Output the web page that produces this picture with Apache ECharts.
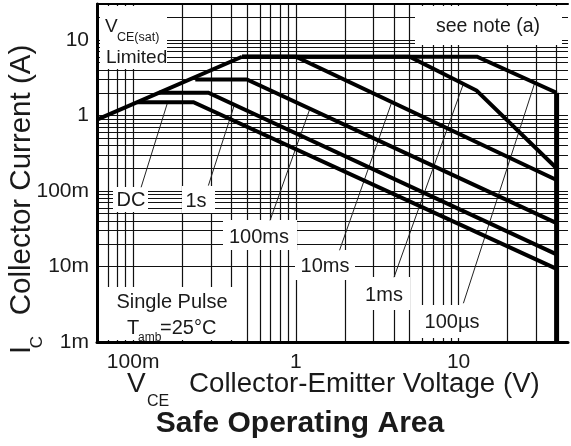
<!DOCTYPE html>
<html><head><meta charset="utf-8">
<script src="https://cdn.jsdelivr.net/npm/echarts@6/dist/echarts.min.js"></script>
<style>html,body{margin:0;padding:0;background:#fff}#c{width:571px;height:446px}</style>
</head><body><div id="c"></div>
<script>
// ---- axes ----
const xRange = [0.06, 47];
const yRange = [0.001, 30];
const xTickLabels = {'0.1': '100m', '1': '1', '10': '10'};
const yTickLabels = {'0.001': '1m', '0.01': '10m', '0.1': '100m', '1': '1', '10': '10'};
const xGridValues = [0.06, 0.07, 0.08, 0.09, 0.1, 0.2, 0.3, 0.4, 0.5, 0.6, 0.7, 0.8, 0.9,
  1, 2, 3, 4, 5, 6, 7, 8, 9, 10, 20, 30, 40];
const yGridValues = [0.001, 0.002, 0.003, 0.004, 0.005, 0.006, 0.007, 0.008, 0.009,
  0.01, 0.02, 0.03, 0.04, 0.05, 0.06, 0.07, 0.08, 0.09,
  0.1, 0.2, 0.3, 0.4, 0.5, 0.6, 0.7, 0.8, 0.9,
  1, 2, 3, 4, 5, 6, 7, 8, 9, 10, 20, 30];

// ---- SOA curves (V, A) ----
const vceSatV = [0.06, 0.467];
const vceSatI = [0.88, 6];
const dcV = [0.106, 0.235, 40];
const dcI = [1.5, 1.5, 0.0093];
const s1V = [0.144, 0.29, 40];
const s1I = [2, 2, 0.0145];
const ms100V = [0.241, 0.5, 40];
const ms100I = [3, 3, 0.0375];
const ms10V = [0.467, 1.0, 40];
const ms10I = [6, 6, 0.14];
const ms1V = [0.467, 5.0, 12.9, 40];
const ms1I = [6, 6, 2.14, 0.2];
const us100V = [0.467, 13, 40];
const us100I = [6, 6, 2.0];
const vceMaxV = [40, 40];
const vceMaxI = [2.0, 0.001];

// ---- callout leader lines (V, A) ----
const dcLeadV = [0.112, 0.163];   const dcLeadI = [0.112, 1.5];
const s1LeadV = [0.29, 0.419];    const s1LeadI = [0.118, 1.38];
const ms100LeadV = [0.694, 1.22]; const ms100LeadI = [0.0408, 1.23];
const ms10LeadV = [1.855, 3.9];   const ms10LeadI = [0.0164, 1.54];
const ms1LeadV = [4.01, 10.7];    const ms1LeadI = [0.0072, 2.63];
const us100LeadV = [10.7, 29.4];  const us100LeadI = [0.00326, 2.73];

const FONT = '"Liberation Sans", Arial, sans-serif';
const pairs = (xs, ys) => xs.map((x, i) => [x, ys[i]]);
const decKey = v => {
  const e = Math.log10(v), r = Math.round(e);
  return Math.abs(e - r) < 1e-6 ? String(Math.pow(10, r)) : null;
};
const curve = (name, xs, ys, w) => ({
  name, type: 'line', data: pairs(xs, ys), symbol: 'none', showSymbol: false,
  silent: true, z: 20, animation: false,
  lineStyle: {color: '#000', width: w, cap: 'butt', join: 'miter'}
});
const leader = (name, xs, ys) => ({
  name, type: 'line', data: pairs(xs, ys), symbol: 'none', showSymbol: false,
  silent: true, z: 19, animation: false,
  lineStyle: {color: '#222', width: 1}
});

const box = (x, y, w, h) => ({type: 'rect', z: 15, silent: true,
  shape: {x, y, width: w, height: h}, style: {fill: '#fff'}});
const txt = (text, x, y, size, opt) => {
  opt = opt || {};
  return {type: 'text', x, y, z: 25, silent: true, rotation: opt.rot || 0,
    style: {text, font: (opt.bold ? 'bold ' : '') + size + 'px ' + FONT, fill: '#1a1a1a',
      align: opt.align || 'center', verticalAlign: 'middle',
      textAlign: opt.align || 'center', textVerticalAlign: 'middle'}};
};

const chart = echarts.init(document.getElementById('c'), null, {renderer: 'canvas'});
const gridMarks = xGridValues.map(v => ({xAxis: v})).concat(yGridValues.map(v => ({yAxis: v})));

const option = {
  animation: false,
  backgroundColor: '#fff',
  grid: {left: 97, right: 0, top: 4, bottom: 104, containLabel: false},
  xAxis: [{
    type: 'log', logBase: 10, min: xRange[0], max: xRange[1], z: 30,
    axisLine: {show: true, onZero: false, lineStyle: {color: '#000', width: 3}},
    axisTick: {show: false}, splitLine: {show: false}, minorTick: {show: false},
    axisLabel: {show: true, margin: 10, fontFamily: FONT, fontSize: 21, color: '#1a1a1a',
      showMinLabel: true, showMaxLabel: true,
      formatter: v => { const k = decKey(v); return k && xTickLabels[k] ? xTickLabels[k] : ''; }}
  }, {
    type: 'log', logBase: 10, min: xRange[0], max: xRange[1], position: 'top', z: 30,
    axisLine: {show: true, onZero: false, lineStyle: {color: '#000', width: 2}},
    axisTick: {show: false}, splitLine: {show: false}, axisLabel: {show: false}
  }],
  yAxis: [{
    type: 'log', logBase: 10, min: yRange[0], max: yRange[1], z: 30,
    axisLine: {show: true, onZero: false, lineStyle: {color: '#000', width: 3}},
    axisTick: {show: false}, splitLine: {show: false}, minorTick: {show: false},
    axisLabel: {show: true, margin: 8, fontFamily: FONT, fontSize: 21, color: '#1a1a1a',
      formatter: v => { const k = decKey(v); return k && yTickLabels[k] ? yTickLabels[k] : ''; }}
  }],
  series: [
    {type: 'line', data: [], z: 1, silent: true, animation: false,
      markLine: {z: 1, silent: true, symbol: ['none', 'none'], animation: false,
        label: {show: false}, emphasis: {disabled: true},
        lineStyle: {color: '#111', width: 1.2, type: 'solid'}, data: gridMarks}},
    curve('VCE(sat)', vceSatV, vceSatI, 4),
    curve('DC', dcV, dcI, 4),
    curve('1s', s1V, s1I, 4),
    curve('100ms', ms100V, ms100I, 4),
    curve('10ms', ms10V, ms10I, 4),
    curve('1ms', ms1V, ms1I, 4),
    curve('100us', us100V, us100I, 4),
    curve('VCEmax', vceMaxV, vceMaxI, 5),
    leader('DC lead', dcLeadV, dcLeadI),
    leader('1s lead', s1LeadV, s1LeadI),
    leader('100ms lead', ms100LeadV, ms100LeadI),
    leader('10ms lead', ms10LeadV, ms10LeadI),
    leader('1ms lead', ms1LeadV, ms1LeadI),
    leader('100us lead', us100LeadV, us100LeadI)
  ],
  graphic: {elements: [
    box(100, 6, 67, 63),
    box(415, 6, 147, 39),
    box(113, 187, 35, 25),
    box(182, 186, 33, 27),
    box(223, 220, 74, 30),
    box(295, 250, 60, 30),
    box(358, 277, 52, 33),
    box(413, 305, 75, 33),
    box(107, 287, 130, 53),
    txt('V', 105, 27, 19, {align: 'left'}),
    txt('CE(sat)', 117, 38, 12.5, {align: 'left'}),
    txt('Limited', 106, 58, 19, {align: 'left'}),
    txt('see note (a)', 488, 27, 19.5),
    txt('DC', 131, 200, 20),
    txt('1s', 196, 201, 20),
    txt('100ms', 259, 237, 20),
    txt('10ms', 325, 266, 20),
    txt('1ms', 384, 295, 20),
    txt('100\u00b5s', 452, 322, 20),
    txt('Single Pulse', 172, 302, 20),
    txt('T', 127, 328, 20, {align: 'left'}),
    txt('amb', 138, 338, 12, {align: 'left'}),
    txt('=25\u00b0C', 160, 328, 20, {align: 'left'}),
    txt('V', 127, 384, 28, {align: 'left'}),
    txt('CE', 147, 402, 16, {align: 'left'}),
    txt('Collector-Emitter Voltage (V)', 189, 384, 27.7, {align: 'left'}),
    txt('Safe Operating Area', 300, 424, 30, {bold: true}),
    txt('Collector Current (A)', 22, 180, 29.5, {rot: Math.PI / 2}),
    txt('I', 22, 350, 29, {rot: Math.PI / 2}),
    txt('C', 37, 342, 17, {rot: Math.PI / 2})
  ]}
};
chart.setOption(option);
</script></body></html>
